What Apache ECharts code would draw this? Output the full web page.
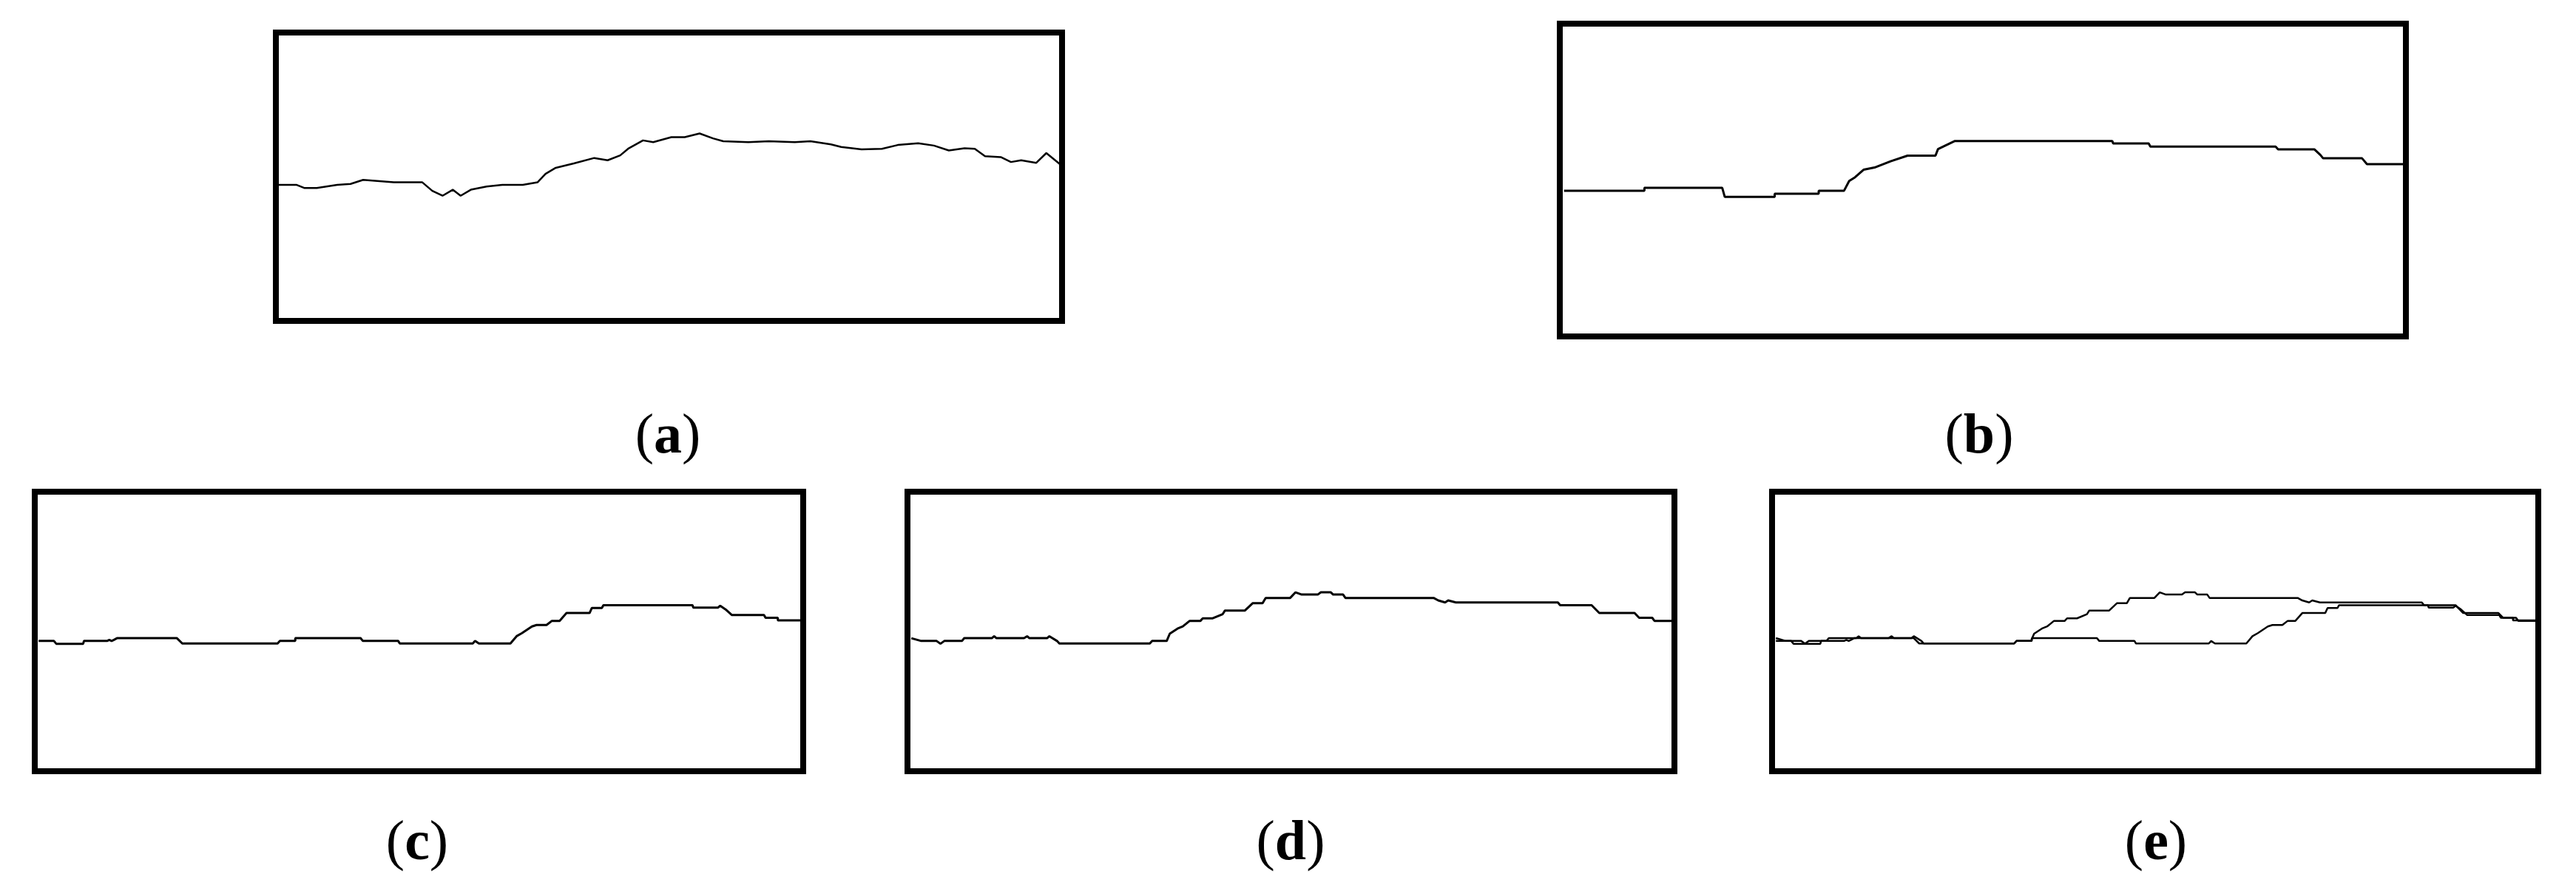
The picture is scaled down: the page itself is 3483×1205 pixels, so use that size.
<!DOCTYPE html>
<html>
<head>
<meta charset="utf-8">
<script src="https://cdn.jsdelivr.net/npm/echarts@6/dist/echarts.min.js"></script>
<style>
html,body{margin:0;padding:0;background:#fff;}
#chart{width:3483px;height:1205px;}
</style>
</head>
<body>
<div id="chart"></div>
<script>
// Panel labels
var panelLabels = ['a', 'b', 'c', 'd', 'e'];

// Profile (a): noisy measured profile [x %, height %]
var profileA = [[0.3,47.2],[2.6,47.2],[3.6,46.1],[5.2,46.1],[7.8,47.2],[9.5,47.5],[11.1,48.9],[15.0,48.1],[18.6,48.1],[19.9,45.1],[21.2,43.4],[22.5,45.5],[23.5,43.4],[24.8,45.5],[26.8,46.6],[28.8,47.2],[31.4,47.2],[33.3,48.1],[34.3,51.0],[35.6,53.1],[37.9,54.6],[40.5,56.5],[42.2,55.7],[43.8,57.4],[44.8,59.7],[46.7,62.6],[48.0,62.0],[50.3,63.7],[52.0,63.7],[53.9,65.0],[55.6,63.3],[56.9,62.3],[60.1,62.0],[62.7,62.3],[66.0,62.0],[68.0,62.3],[70.6,61.2],[71.9,60.3],[74.5,59.5],[77.1,59.7],[79.1,61.0],[81.7,61.6],[83.7,60.8],[85.6,59.1],[87.6,59.9],[88.9,59.7],[90.2,57.1],[92.2,56.8],[93.5,55.1],[94.8,55.7],[96.7,54.8],[98.0,58.2],[99.7,54.4]];

// Profile (b): smoothed step profile
var profileB = [[0.5,46.6],[10.0,46.6],[10.0,47.5],[19.2,47.5],[19.5,44.6],[25.4,44.6],[25.4,45.6],[30.6,45.6],[30.6,46.6],[33.6,46.6],[34.2,49.7],[34.9,50.9],[35.9,53.3],[37.2,54.0],[39.1,56.0],[41.1,57.8],[44.4,57.8],[44.7,59.9],[46.7,62.5],[65.3,62.5],[65.4,61.7],[69.6,61.7],[69.8,60.7],[84.6,60.7],[84.9,59.8],[89.2,59.8],[89.9,58.0],[90.2,57.0],[94.8,57.0],[95.4,55.1],[99.9,55.1]];

// Profile (c)
var profileC = [[0.5,46.6],[2.5,46.6],[2.8,45.6],[6.3,45.6],[6.4,46.6],[9.4,46.6],[9.7,47.0],[10.0,46.6],[10.3,47.0],[10.7,47.6],[18.5,47.6],[19.2,45.7],[31.6,45.7],[31.9,46.6],[33.9,46.6],[33.9,47.6],[42.4,47.6],[42.7,46.6],[47.3,46.6],[47.5,45.7],[57.0,45.7],[57.3,46.6],[57.8,45.7],[61.9,45.7],[62.7,48.3],[63.4,49.4],[64.7,51.8],[65.3,52.3],[66.6,52.3],[67.3,53.8],[68.3,53.8],[69.2,56.6],[72.2,56.6],[72.5,58.4],[73.8,58.4],[74.0,59.4],[85.6,59.4],[85.7,58.5],[88.9,58.5],[89.2,59.2],[89.9,57.9],[90.7,55.9],[94.9,55.9],[95.1,54.9],[96.7,54.9],[96.7,54.0],[99.9,54.0]];

// Profile (d)
var profileD = [[0.5,47.6],[1.8,46.6],[3.8,46.6],[4.3,45.6],[4.8,46.6],[7.1,46.6],[7.4,47.6],[11.0,47.6],[11.3,48.3],[11.6,47.6],[15.2,47.6],[15.6,48.3],[15.9,47.6],[18.2,47.6],[18.5,48.3],[19.5,46.6],[19.8,45.7],[31.6,45.7],[31.9,46.6],[33.8,46.6],[34.2,49.2],[35.2,51.0],[35.9,51.8],[36.8,53.8],[38.2,53.8],[38.5,54.7],[39.8,54.7],[41.1,56.2],[41.4,57.5],[44.0,57.5],[45.0,60.1],[46.3,60.1],[46.7,62.0],[49.9,62.0],[50.6,64.0],[51.4,63.2],[53.5,63.2],[53.9,64.0],[55.2,64.0],[55.5,63.2],[56.8,63.2],[57.1,62.0],[68.6,62.0],[69.2,61.1],[70.1,60.4],[70.5,61.1],[71.5,60.4],[84.8,60.4],[85.1,59.4],[89.2,59.4],[90.2,56.6],[94.8,56.6],[95.4,54.9],[97.1,54.9],[97.4,53.8],[99.9,53.8]];

var panels = [
  {name:'a', data:[profileA], left:373, top:44, width:1063, height:390, lw:2.5, lx:903, ly:592},
  {name:'b', data:[profileB], left:2109, top:32, width:1144, height:423, lw:3, lx:2676, ly:592},
  {name:'c', data:[profileC], left:47, top:665, width:1039, height:378, lw:3, lx:564, ly:1142},
  {name:'d', data:[profileD], left:1227, top:665, width:1037, height:378, lw:3, lx:1745, ly:1142},
  {name:'e', data:[profileC, profileD], left:2396, top:665, width:1036, height:378, lw:2.5, lx:2915, ly:1142}
];

var grids = [], xAxes = [], yAxes = [], series = [], graphics = [];
var fam = '"Liberation Serif", "DejaVu Serif", serif';
panels.forEach(function(p, i){
  grids.push({left:p.left, top:p.top, width:p.width, height:p.height, show:true,
    borderColor:'#000', borderWidth:8, backgroundColor:'#fff', containLabel:false});
  xAxes.push({type:'value', gridIndex:i, min:0, max:100, show:false});
  yAxes.push({type:'value', gridIndex:i, min:0, max:100, show:false});
  p.data.forEach(function(d){
    series.push({type:'line', xAxisIndex:i, yAxisIndex:i, data:d, showSymbol:false,
      symbol:'none', lineStyle:{color:'#000', width:p.lw}, silent:true});
  });
  graphics.push({type:'text', x:p.lx, y:p.ly, style:{
    text:'{p|(}{b|' + panelLabels[i] + '})'.replace('})','}{p|)}'),
    align:'center', verticalAlign:'middle',
    rich:{
      p:{fontFamily:fam, fontSize:76, fill:'#000', fontWeight:'normal'},
      b:{fontFamily:fam, fontSize:76, fill:'#000', fontWeight:'bold'}
    }
  }});
});

var chart = echarts.init(document.getElementById('chart'), null, {renderer:'canvas'});
chart.setOption({
  animation:false,
  backgroundColor:'#fff',
  grid:grids, xAxis:xAxes, yAxis:yAxes, series:series, graphic:graphics
});
</script>
</body>
</html>
